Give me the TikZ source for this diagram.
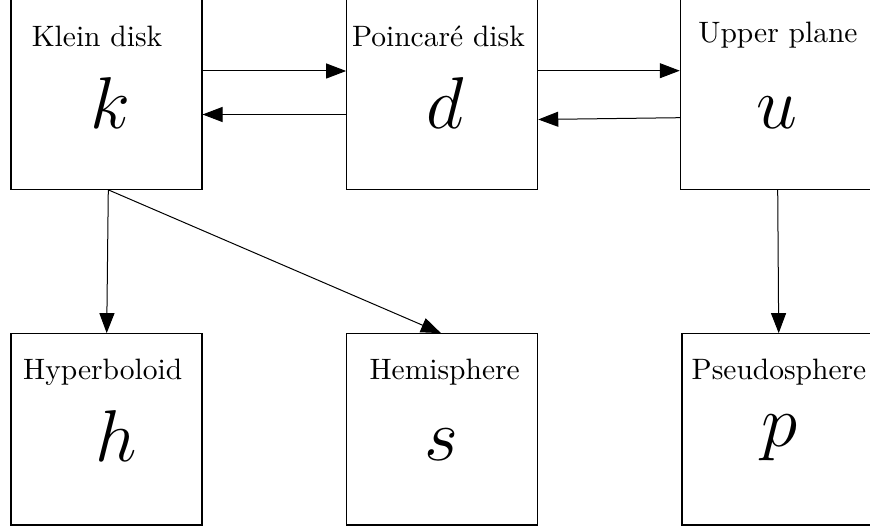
\documentclass[tikz,border=0pt]{standalone}
\usepackage{graphicx}
\usetikzlibrary{arrows.meta}
\newcommand\mylbl[1]{\scalebox{2.95}{#1}}
\newcommand\mysym[1]{\scalebox{2.95}{\Huge$#1$}}
\tikzset{
  box/.style={draw, line width=1.1pt, rectangle, minimum width=191pt, minimum height=191.3pt, inner sep=0pt},
  txt/.style={inner sep=0pt, anchor=base},
  arr/.style={line width=1pt, -{Triangle[length=20pt,width=15pt]}}
}
\begin{document}
\begin{tikzpicture}[x=1pt,y=-1pt]
\useasboundingbox (0,0) rectangle (870,529);
% boxes
\node[box] (k) at (106.5,93.65) {};
\node[box] (d) at (442.2,93.65) {};
\node[box] (u) at (775.8,93.65) {};
\node[box] (h) at (106.5,429.35) {};
\node[box] (s) at (442.0,429.35) {};
\node[box] (p) at (777.5,429.35) {};
% labels
\node[txt] (kl) at (97,47) {\mylbl{Klein disk}};
\node[txt] (dl) at (438.5,47) {\mylbl{Poincar\'e disk}};
\node[txt] (ul) at (778,42.7) {\mylbl{Upper plane}};
\node[txt] (hl) at (102.7,379.3) {\mylbl{Hyperboloid}};
\node[txt] (sl) at (444.7,379) {\mylbl{Hemisphere}};
\node[txt] (pl) at (779,379) {\mylbl{Pseudosphere}};
% symbols
\node[txt] (km) at (110,129) {\mysym{k}};
\node[txt] (dm) at (445,129) {\mysym{d}};
\node[txt] (um) at (777,128.5) {\mysym{u}};
\node[txt] (hm) at (116,461.7) {\mysym{h}};
\node[txt] (sm) at (441,460) {\mysym{s}};
\node[txt] (pm) at (780,446.7) {\mysym{p}};
% connectors
\draw[arr] ([yshift=22.65pt]k.east) -- ([yshift=22.65pt]d.west);
\draw[arr] ([yshift=-20.85pt]d.west) -- ([yshift=-20.85pt]k.east);
\draw[arr] ([yshift=22.95pt]d.east) -- ([yshift=22.95pt]u.west);
\draw[arr] ([yshift=-24.05pt]u.west) -- ([yshift=-25.85pt]d.east);
\draw[arr] ([xshift=1.8pt]k.south) -- ([xshift=0.2pt]h.north);
\draw[arr] ([xshift=1.8pt]k.south) -- ([xshift=-1pt]s.north);
\draw[arr] ([xshift=1.9pt]u.south) -- ([xshift=1.2pt]p.north);
\end{tikzpicture}
\end{document}
